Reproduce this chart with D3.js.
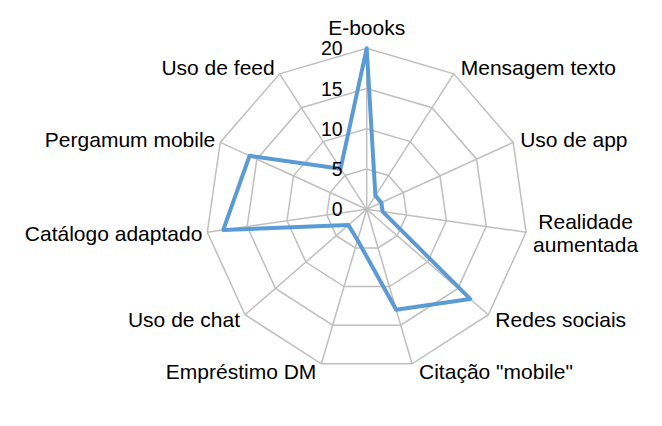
<!DOCTYPE html>
<html>
<head>
<meta charset="utf-8">
<script src="https://cdn.jsdelivr.net/npm/d3@7"></script>
<style>
  body { margin: 0; background: #ffffff; }
  svg text { font-family: "Liberation Sans", Arial, sans-serif; fill: #000000; }
  .grid { fill: none; stroke: #bfbfbf; stroke-width: 1.5; }
  .series { fill: none; stroke: #5b9bd5; stroke-width: 4; stroke-linejoin: round; }
</style>
</head>
<body>
<div id="chart"></div>
<script>
// Categories, clockwise from the top
var categories = ['E-books', 'Mensagem texto', 'Uso de app', 'Realidade aumentada',
                  'Redes sociais', 'Citação "mobile"', 'Empréstimo DM', 'Uso de chat',
                  'Catálogo adaptado', 'Pergamum mobile', 'Uso de feed'];

// Values
var values = [20, 2, 2, 2, 17, 13, 4, 3, 18, 16, 6];

// Radial axis ticks
var tickValues = [0, 5, 10, 15, 20];

var width = 662, height = 426;
var cx = 366.7, cy = 209.3, radius = 161;
var labelSize = 21;

var svg = d3.select('#chart')
            .append('svg')
            .attr('width', width)
            .attr('height', height);

var g = svg.append('g')
           .attr('transform', 'translate(' + cx + ',' + cy + ')');

var rScale = d3.scaleLinear()
               .domain([0, d3.max(tickValues)])
               .range([0, radius]);

var angleScale = d3.scaleLinear()
                   .domain([0, categories.length])
                   .range([0, 2 * Math.PI]);

// Grid rings (polygons)
var ringLine = d3.lineRadial()
                 .angle(function (d, i) { return angleScale(i); })
                 .radius(function (d) { return rScale(d); })
                 .curve(d3.curveLinearClosed);

tickValues.filter(function (t) { return t > 0; }).forEach(function (t)
{
    g.append('path')
     .attr('class', 'grid')
     .attr('d', ringLine(categories.map(function () { return t; })));
});

// Spokes
categories.forEach(function (c, i)
{
    var a = angleScale(i);
    g.append('line')
     .attr('class', 'grid')
     .attr('x1', 0).attr('y1', 0)
     .attr('x2', rScale(d3.max(tickValues)) * Math.sin(a))
     .attr('y2', -rScale(d3.max(tickValues)) * Math.cos(a));
});

// Series
var seriesLine = d3.lineRadial()
                   .angle(function (d, i) { return angleScale(i); })
                   .radius(function (d) { return rScale(d); })
                   .curve(d3.curveLinearClosed);

g.append('path')
 .datum(values)
 .attr('class', 'series')
 .attr('d', seriesLine);

// Tick labels, left of the vertical axis
g.selectAll('.tickLabel')
 .data(tickValues)
 .enter()
 .append('text')
 .attr('class', 'tickLabel')
 .attr('x', -24)
 .attr('y', function (d) { return -rScale(d) + 7; })
 .style('text-anchor', 'end')
 .style('font-size', '19.5px')
 .text(function (d) { return d; });

// Category labels
categories.forEach(function (c, i)
{
    var a = angleScale(i);
    var s = Math.sin(a), co = Math.cos(a);
    var vx = radius * s, vy = -radius * co;
    var anchor = Math.abs(s) < 0.1 ? 'middle' : (s > 0 ? 'start' : 'end');
    var x = vx + (anchor === 'middle' ? 0 : (s > 0 ? 7 : -5));
    var yc = vy - (anchor === 'middle' ? 21 : 8 * co);

    var t = g.append('text')
             .style('font-size', labelSize + 'px')
             .style('text-anchor', anchor)
             .attr('x', x)
             .attr('y', yc + 7.5)
             .text(c);

    // wrap labels that run past the right edge
    var len = t.node().getComputedTextLength();
    if (anchor === 'start' && cx + x + len > width - 6)
    {
        var words = c.split(' ');
        t.text(null);
        var widest = 0;
        var tmp = g.append('text').style('font-size', labelSize + 'px');
        words.forEach(function (w) { tmp.text(w); widest = Math.max(widest, tmp.node().getComputedTextLength()); });
        tmp.remove();
        t.style('text-anchor', 'middle');
        words.forEach(function (w, k)
        {
            t.append('tspan')
             .attr('x', x + widest / 2)
             .attr('y', yc + 7.5 + (k - (words.length - 1) / 2) * 23)
             .text(w);
        });
    }
});
</script>
</body>
</html>
